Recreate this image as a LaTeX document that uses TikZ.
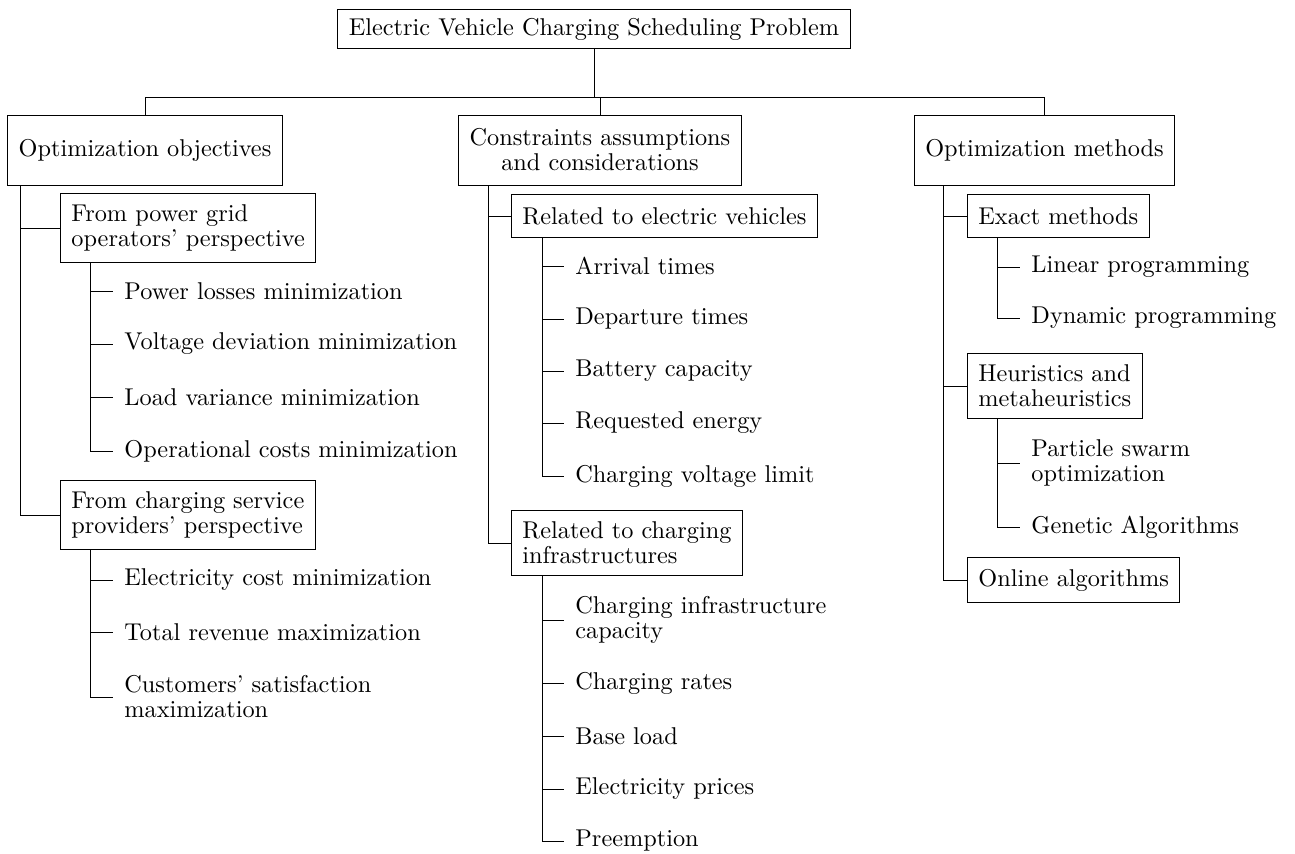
\documentclass[tikz,border=0pt]{standalone}
\usepackage{tikz}
\usetikzlibrary{positioning,calc}

\begin{document}
\begin{tikzpicture}[x=0.4115pt, y=-0.4115pt,
  every node/.style={font=\fontsize{10pt}{10.3pt}\selectfont},
  rootbox/.style={draw, inner xsep=4.5pt, minimum height=15.6pt},
  topicbox/.style={draw, align=center, inner xsep=4.5pt, minimum height=28.8pt},
  subbox/.style={draw, align=left, anchor=west, inner xsep=4.5pt, inner ysep=4.6pt, minimum height=18pt},
  leaf/.style={align=left, anchor=west, inner xsep=4.5pt, inner ysep=0pt}]

  \useasboundingbox (0,0) rectangle (1295,853);

  % Root and the three topics
  \node[rootbox] (root) at (594,29) {Electric Vehicle Charging Scheduling Problem};
  \node[topicbox] (obj) at (145,150) {Optimization objectives};
  \node[topicbox] (con) at (600,150) {Constraints assumptions\\and considerations};
  \node[topicbox] (met) at (1044.5,150) {Optimization methods};

  \coordinate (bus) at (595,97);
  \draw (root.south) -- (root.south |- bus);
  \draw (obj.north) |- (met.north |- bus) -- (met.north);
  \draw (con.north) -- (con.north |- bus);

  % Optimization objectives
  \node[subbox] (grid) at (60,228) {From power grid\\operators' perspective};
  \node[subbox] (csp) at (60,515) {From charging service\\providers' perspective};
  \coordinate (objtrunk) at ($(obj.south west)+(13,0)$);
  \draw (objtrunk) |- (grid.west);
  \draw (objtrunk) |- (csp.west);

  \coordinate (gridtrunk) at ($(grid.south west)+(30,0)$);
  \foreach \name/\yy/\txt in {pl/291/Power losses minimization,
      vd/344/Voltage deviation minimization,
      lv/397/Load variance minimization,
      oc/451/Operational costs minimization} {
    \node[leaf] (\name) at (113,\yy) {\txt};
    \draw (gridtrunk) |- (\name.west);
  }

  \coordinate (csptrunk) at ($(csp.south west)+(30,0)$);
  \foreach \name/\yy/\txt in {ec/580/Electricity cost minimization,
      tr/632/Total revenue maximization,
      cs/697/{Customers' satisfaction\\maximization}} {
    \node[leaf] (\name) at (113,\yy) {\txt};
    \draw (csptrunk) |- (\name.west);
  }

  % Constraints assumptions and considerations
  \node[subbox] (ev) at (511,216) {Related to electric vehicles};
  \node[subbox] (ci) at (511,543) {Related to charging\\infrastructures};
  \coordinate (contrunk) at ($(con.south west)+(30,0)$);
  \draw (contrunk) |- (ev.west);
  \draw (contrunk) |- (ci.west);

  \coordinate (evtrunk) at ($(ev.south west)+(31,0)$);
  \foreach \name/\yy/\txt in {at/266/Arrival times,
      dt/319/Departure times,
      bc/371/Battery capacity,
      re/423/Requested energy,
      cv/476/Charging voltage limit} {
    \node[leaf] (\name) at (564,\yy) {\txt};
    \draw (evtrunk) |- (\name.west);
  }

  \coordinate (citrunk) at ($(ci.south west)+(31,0)$);
  \foreach \name/\yy/\txt in {icap/620/{Charging infrastructure\\capacity},
      cr/683/Charging rates,
      bl/736/Base load,
      ep/789/Electricity prices,
      pe/841/Preemption} {
    \node[leaf] (\name) at (564,\yy) {\txt};
    \draw (citrunk) |- (\name.west);
  }

  % Optimization methods
  \node[subbox] (ex) at (967,216) {Exact methods};
  \node[subbox] (heu) at (967,386) {Heuristics and\\metaheuristics};
  \node[subbox] (onl) at (967,580) {Online algorithms};
  \coordinate (mettrunk) at ($(met.south west)+(30,0)$);
  \foreach \sub in {ex,heu,onl} {
    \draw (mettrunk) |- (\sub.west);
  }

  \coordinate (extrunk) at ($(ex.south west)+(30,0)$);
  \foreach \name/\yy/\txt in {lp/267/Linear programming,
      dp/318/Dynamic programming} {
    \node[leaf] (\name) at (1020,\yy) {\txt};
    \draw (extrunk) |- (\name.west);
  }

  \coordinate (heutrunk) at ($(heu.south west)+(30,0)$);
  \foreach \name/\yy/\txt in {pso/463/{Particle swarm\\optimization},
      ga/527/Genetic Algorithms} {
    \node[leaf] (\name) at (1020,\yy) {\txt};
    \draw (heutrunk) |- (\name.west);
  }
\end{tikzpicture}
\end{document}
